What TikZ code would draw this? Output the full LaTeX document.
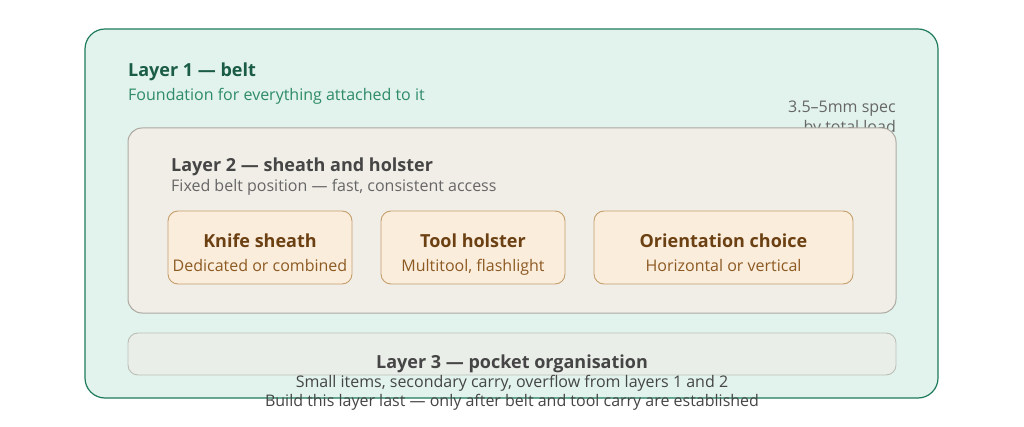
\documentclass[tikz,border=0pt]{standalone}
\usepackage{fontspec}
\setmainfont{Open Sans}
\definecolor{outerfill}{HTML}{E1F3EC}
\definecolor{outerdraw}{HTML}{1E7A5C}
\definecolor{l1title}{HTML}{1A5C45}
\definecolor{l1sub}{HTML}{2E8B68}
\definecolor{l2fill}{HTML}{F1EEE8}
\definecolor{l2draw}{HTML}{ABA9A1}
\definecolor{graytext}{HTML}{454545}
\definecolor{graysub}{HTML}{666666}
\definecolor{itemfill}{HTML}{FBEDDC}
\definecolor{itemdraw}{HTML}{C49E6C}
\definecolor{itemtitle}{HTML}{6B4012}
\definecolor{itemsub}{HTML}{8C5A22}
\definecolor{l3fill}{HTML}{E9EEE8}
\definecolor{l3draw}{HTML}{BDBFB8}
\tikzset{
  box/.style={draw, rounded corners=#1, inner sep=0pt},
  itembox/.style={box=10pt, fill=itemfill, draw=itemdraw, line width=0.9pt, minimum height=73pt},
  ttl/.style={font=\fontsize{18}{21}\selectfont\bfseries, inner sep=0pt},
  sub/.style={font=\fontsize{16}{19}\selectfont, inner sep=0pt},
  itemttl/.style={ttl, text=itemtitle, anchor=base},
  itemsubt/.style={sub, text=itemsub, anchor=base}
}
\begin{document}
\begin{tikzpicture}[x=1pt,y=-1pt]
\useasboundingbox (0,0) rectangle (1024,427);
\node[box=20pt, fill=outerfill, draw=outerdraw, line width=1.2pt, minimum width=853pt, minimum height=369pt] (outer) at (511.5,213.5) {};
\node[ttl, text=l1title, anchor=base west] (l1t) at (128,77) {Layer 1 — belt};
\node[sub, text=l1sub, anchor=base west] (l1s) at (128,101) {Foundation for everything attached to it};
\node[sub, text=graysub, anchor=base east] (spec1) at (896,113) {3.5–5mm spec};
\node[sub, text=graysub, anchor=base east] (spec2) at (896,133) {by total load};
\node[box=14pt, fill=l2fill, draw=l2draw, line width=1pt, minimum width=768pt, minimum height=185pt] (l2) at (512,220.5) {};
\node[ttl, text=graytext, anchor=base west] (l2t) at (171,172) {Layer 2 — sheath and holster};
\node[sub, text=graysub, anchor=base west] (l2s) at (171,192) {Fixed belt position — fast, consistent access};
\node[itembox, minimum width=184pt] (knife) at (260,247.5) {};
\node[itemttl] (knifet) at (260,248) {Knife sheath};
\node[itemsubt] (knifes) at (260,272) {Dedicated or combined};
\node[itembox, minimum width=184pt] (tool) at (473,247.5) {};
\node[itemttl] (toolt) at (473,248) {Tool holster};
\node[itemsubt] (tools) at (473,272) {Multitool, flashlight};
\node[itembox, minimum width=259pt] (orient) at (723.5,247.5) {};
\node[itemttl] (orientt) at (723.5,248) {Orientation choice};
\node[itemsubt] (orients) at (723.5,272) {Horizontal or vertical};
\node[box=10pt, fill=l3fill, draw=l3draw, line width=0.9pt, minimum width=768pt, minimum height=42pt] (l3) at (512,354) {};
\node[ttl, text=graytext, anchor=base] (l3t) at (512,368) {Layer 3 — pocket organisation};
\node[sub, text=graytext, anchor=base] (l3s1) at (512,387) {Small items, secondary carry, overflow from layers 1 and 2};
\node[sub, text=graytext, anchor=base] (l3s2) at (512,406) {Build this layer last — only after belt and tool carry are established};
\end{tikzpicture}
\end{document}
